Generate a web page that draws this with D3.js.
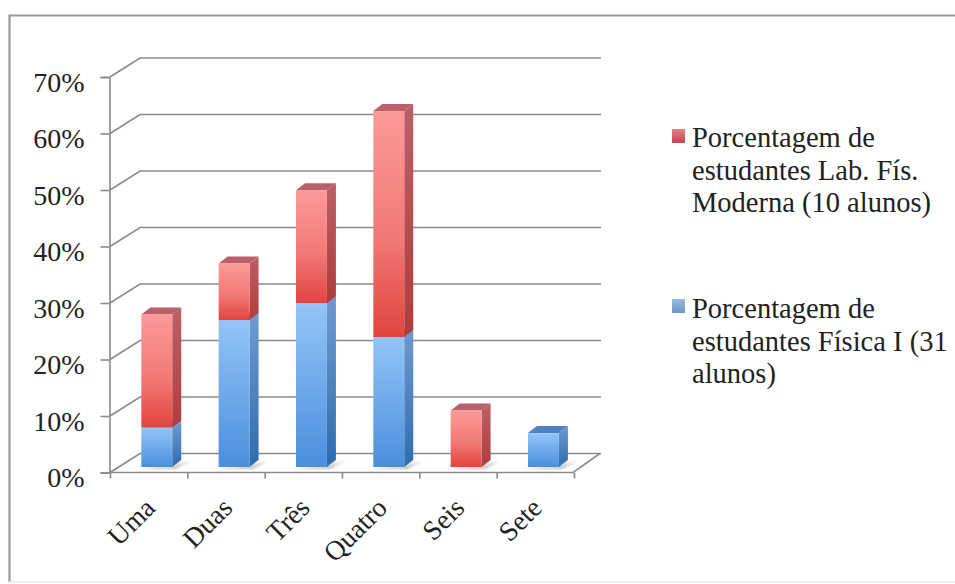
<!DOCTYPE html>
<html>
<head>
<meta charset="utf-8">
<script src="https://cdnjs.cloudflare.com/ajax/libs/d3/7.8.5/d3.min.js"></script>
<style>
html,body{margin:0;padding:0;background:#fff;}
svg{display:block;}
text{font-family:"Liberation Serif",serif;fill:#222;}
</style>
</head>
<body>
<svg id="chart" width="955" height="584"></svg>
<script>
// Respostas por categoria, em porcentagem de cada turma
const categories = ["Uma", "Duas", "Três", "Quatro", "Seis", "Sete"];
const fisicaI = [7, 26, 29, 23, 0, 6];
const labModerna = [20, 10, 20, 40, 10, 0];
const yTicks = [0, 10, 20, 30, 40, 50, 60, 70];
const legendLab = ["Porcentagem de", "estudantes Lab. Fís.", "Moderna (10 alunos)"];
const legendFisica = ["Porcentagem de", "estudantes Física I (31", "alunos)"];

const svg = d3.select("#chart");
const FONT = 28.5;

// Pseudo-3D projection: the back wall is offset from the front plane
const wall = {dx: 30, dy: -19};
const barDepth = {dx: 9, dy: -7};
const floorLift = 5.5;

const x = d3.scaleBand().domain(categories).range([110, 574]);
const y = d3.scaleLinear().domain([0, 70]).range([472.5, 77]);
const barOffset = x.bandwidth() * 0.405;
const barWidth = x.bandwidth() * 0.4;

const rows = categories.map((c, i) => ({cat: c, fisica: fisicaI[i], lab: labModerna[i]}));
const stacked = d3.stack().keys(["fisica", "lab"])(rows);

// Gradients and filters
const defs = svg.append("defs");
function gradient(id, stops) {
  const g = defs.append("linearGradient").attr("id", id)
    .attr("x1", 0).attr("y1", 0).attr("x2", 0).attr("y2", 1);
  stops.forEach(([o, c]) => g.append("stop").attr("offset", o).attr("stop-color", c));
}
gradient("frontRed", [[0, "#fb9a98"], [0.55, "#f27a76"], [1, "#e2443f"]]);
gradient("sideRed", [[0, "#bb6068"], [1, "#b03c3c"]]);
gradient("frontBlue", [[0, "#94c4f8"], [1, "#4a8fdc"]]);
gradient("sideBlue", [[0, "#6f9ad0"], [1, "#2f6cae"]]);
defs.append("filter").attr("id", "soft").append("feGaussianBlur").attr("stdDeviation", 1.6);

const palette = {
  fisica: {front: "url(#frontBlue)", side: "url(#sideBlue)", top: "#4f80c6"},
  lab: {front: "url(#frontRed)", side: "url(#sideRed)", top: "#b9606a"}
};

// Outer frame of the figure
svg.append("path")
  .attr("d", "M9.5,582 V15.5 H955")
  .attr("fill", "none").attr("stroke", "#999").attr("stroke-width", 2.2);
svg.append("line").attr("x1", 9).attr("x2", 955).attr("y1", 582).attr("y2", 582)
  .attr("stroke", "#ececec").attr("stroke-width", 1.5);

// Back-wall gridlines with their slanted run to the front axis
const grid = svg.append("g").attr("fill", "none").attr("stroke", "#8a8a8a").attr("stroke-width", 1.6);
yTicks.forEach(t => {
  const px = y(t);
  grid.append("path").attr("d", d3.line()([
    [x.range()[0], px], [x.range()[0] + wall.dx, px + wall.dy], [601, px + wall.dy]
  ]));
});

// Floor front edge and right-hand slant
grid.append("path").attr("d", d3.line()([
  [x.range()[0], y(0)], [573, y(0)], [573 + wall.dx - 3, y(0) + wall.dy]
]));

// Value axis
const yAxis = d3.axisLeft(y).tickValues(yTicks).tickFormat(d => d + "%").tickSize(9).tickPadding(16);
const yG = svg.append("g").attr("transform", "translate(109.5,0)").call(yAxis);
yG.select(".domain").attr("stroke", "#8a8a8a").attr("stroke-width", 1.6);
yG.selectAll(".tick line").attr("stroke", "#8a8a8a").attr("stroke-width", 1.6);
yG.selectAll("text").attr("font-size", FONT - 0.5).attr("font-family", "Liberation Serif").attr("fill", "#222")
  .attr("dy", "0.5em");

// Category axis with slanted labels
const xTickScale = d3.scaleLinear().domain([0, categories.length]).range(x.range());
const xAxis = d3.axisBottom(xTickScale).tickValues(d3.range(categories.length + 1)).tickFormat("").tickSize(6);
const xG = svg.append("g").attr("transform", `translate(0,${y(0)})`).call(xAxis);
xG.select(".domain").remove();
xG.selectAll(".tick line").attr("stroke", "#8a8a8a").attr("stroke-width", 1.6);
svg.append("g").selectAll("text").data(categories).join("text")
  .attr("transform", d => `translate(${x(d) + x.bandwidth() / 2 + 8},${y(0) + 37}) rotate(-45)`)
  .attr("text-anchor", "end")
  .attr("font-size", FONT - 1)
  .text(d => d);

// Soft contact shadows on the floor
const base = y(0) - floorLift;
svg.append("g").attr("filter", "url(#soft)").attr("fill", "#bdbdbd")
  .selectAll("path").data(rows).join("path")
  .attr("d", d => {
    const l = x(d.cat) + barOffset;
    return d3.line()([[l - 4, base + 2], [l + barWidth + 3, base + 2],
      [l + barWidth + barDepth.dx + 9, base + barDepth.dy + 1], [l + barWidth, base - 1]]);
  });

// Stacked prisms, lower series first
stacked.forEach(layer => {
  const style = palette[layer.key];
  const g = svg.append("g").attr("class", "series-" + layer.key);
  layer.forEach(seg => {
    const [v0, v1] = seg;
    if (v1 <= v0) return;
    const l = x(seg.data.cat) + barOffset;
    const r = l + barWidth;
    const yb = y(v0) - floorLift;
    const yt = y(v1) - floorLift;
    const {dx, dy} = barDepth;
    g.append("path").attr("fill", style.side)
      .attr("d", d3.line()([[r, yb], [r + dx, yb + dy], [r + dx, yt + dy], [r, yt]]));
    g.append("path").attr("fill", style.top)
      .attr("d", d3.line()([[l, yt], [l + dx, yt + dy], [r + dx, yt + dy], [r, yt]]));
    g.append("rect").attr("x", l).attr("y", yt).attr("width", barWidth).attr("height", yb - yt)
      .attr("fill", style.front);
  });
});

// Legend
const legendItems = [
  {lines: legendLab, color: "url(#legendRed)", swatchY: 129, baseY: 147},
  {lines: legendFisica, color: "url(#legendBlue)", swatchY: 299, baseY: 318}
];
gradient("legendRed", [[0, "#e88088"], [1, "#c4474f"]]);
gradient("legendBlue", [[0, "#9bbbe0"], [1, "#6c94c4"]]);
legendItems.forEach(item => {
  svg.append("rect").attr("x", 672).attr("y", item.swatchY).attr("width", 13).attr("height", 14)
    .attr("fill", item.color);
  svg.append("g").selectAll("text").data(item.lines).join("text")
    .attr("x", 692)
    .attr("y", (d, i) => item.baseY + i * 32.5)
    .attr("font-size", FONT)
    .text(d => d);
});
</script>
</body>
</html>
